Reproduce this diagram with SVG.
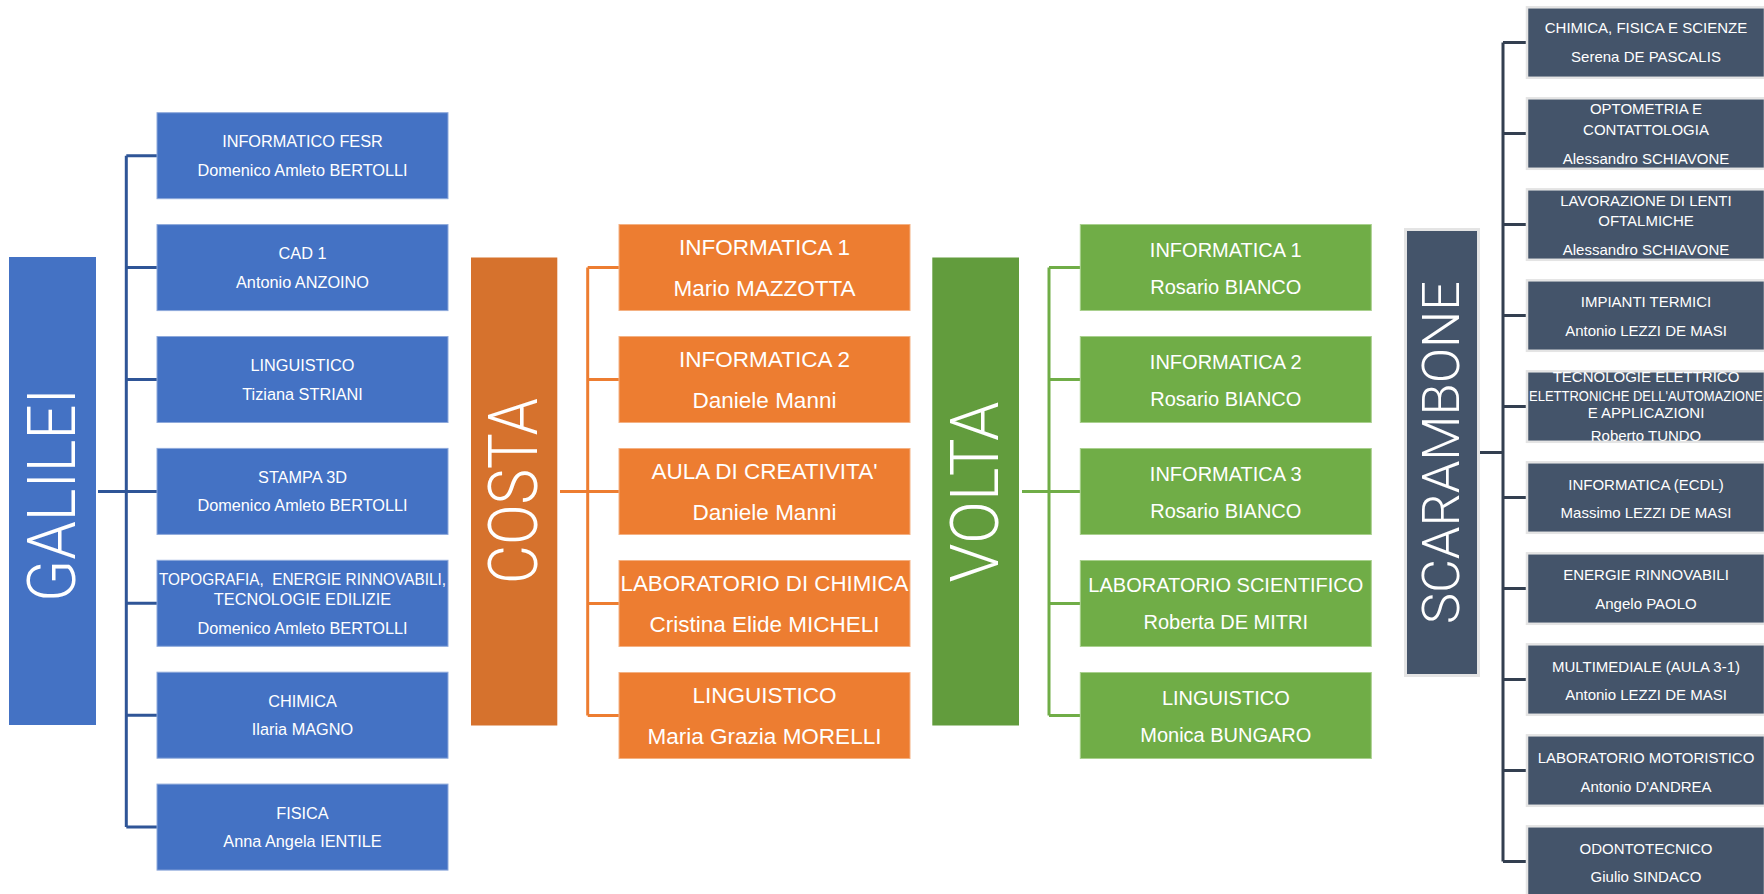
<svg xmlns="http://www.w3.org/2000/svg" width="1764" height="894" viewBox="0 0 1764 894">
<style>
.t{font-family:"Liberation Sans",Arial,sans-serif;fill:#fff;text-anchor:middle}
.big{font-family:Roboto,"Liberation Sans",sans-serif;font-weight:300;fill:#fff;text-anchor:middle}
.gal .box{fill:#4472C4;stroke:#8EA9DB;stroke-width:1}
.cos .box{fill:#ED7D31;stroke:#F4B183;stroke-width:1}
.vol .box{fill:#70AD47;stroke:#A9D08E;stroke-width:1}
.sca .box{fill:#44546A;stroke:#E4E4E4;stroke-width:2.5}
.gal .t{font-size:16.3px}
.cos .t{font-size:22.5px}
.vol .t{font-size:20px}
.sca .t{font-size:15px}
.conn path{fill:none;stroke-width:3}
</style>
<rect width="1764" height="894" fill="#fff"/>
<g id="connectors" class="conn">
<path stroke="#2F5597" d="M98,491.4 H126.3 M126.3,155.7 V827.1 M126.3,155.7 H157 M126.3,267.6 H157 M126.3,379.5 H157 M126.3,491.4 H157 M126.3,603.3 H157 M126.3,715.2 H157 M126.3,827.1 H157"/>
<path stroke="#ED7D31" d="M560,491.5 H587.7 M587.7,267.5 V715.5 M587.7,267.5 H619 M587.7,379.5 H619 M587.7,491.5 H619 M587.7,603.5 H619 M587.7,715.5 H619"/>
<path stroke="#70AD47" d="M1022,491.5 H1049 M1049,267.5 V715.5 M1049,267.5 H1080.3 M1049,379.5 H1080.3 M1049,491.5 H1080.3 M1049,603.5 H1080.3 M1049,715.5 H1080.3"/>
<path stroke="#333F50" d="M1479,452.5 H1503 M1503,42.5 V861.5 M1503,42.5 H1526 M1503,133.5 H1526 M1503,224.5 H1526 M1503,315.5 H1526 M1503,406.5 H1526 M1503,497.5 H1526 M1503,588.5 H1526 M1503,679.5 H1526 M1503,770.5 H1526 M1503,861.5 H1526"/>
</g>

<g id="galilei">
<rect x="9" y="257" width="87" height="468" fill="#4472C4"/>
<text class="big" transform="translate(51,495) rotate(-90)" y="24" font-size="67" textLength="214" lengthAdjust="spacingAndGlyphs">GALILEI</text>
</g>
<g class="gal">
<g id="g1" transform="translate(157,112.7)"><rect class="box" width="291" height="86"/><text class="t" x="145.5" y="34.7">INFORMATICO FESR</text><text class="t" x="145.5" y="63">Domenico Amleto BERTOLLI</text></g>
<g id="g2" transform="translate(157,224.6)"><rect class="box" width="291" height="86"/><text class="t" x="145.5" y="34.7">CAD 1</text><text class="t" x="145.5" y="63">Antonio ANZOINO</text></g>
<g id="g3" transform="translate(157,336.5)"><rect class="box" width="291" height="86"/><text class="t" x="145.5" y="34.7">LINGUISTICO</text><text class="t" x="145.5" y="63">Tiziana STRIANI</text></g>
<g id="g4" transform="translate(157,448.4)"><rect class="box" width="291" height="86"/><text class="t" x="145.5" y="34.7">STAMPA 3D</text><text class="t" x="145.5" y="63">Domenico Amleto BERTOLLI</text></g>
<g id="g5" transform="translate(157,560.3)"><rect class="box" width="291" height="86"/><text class="t" x="145.5" y="24.7" style="white-space:pre" textLength="287" lengthAdjust="spacingAndGlyphs">TOPOGRAFIA,  ENERGIE RINNOVABILI,</text><text class="t" x="145.5" y="44.7">TECNOLOGIE EDILIZIE</text><text class="t" x="145.5" y="73.7">Domenico Amleto BERTOLLI</text></g>
<g id="g6" transform="translate(157,672.2)"><rect class="box" width="291" height="86"/><text class="t" x="145.5" y="34.7">CHIMICA</text><text class="t" x="145.5" y="63">Ilaria MAGNO</text></g>
<g id="g7" transform="translate(157,784.1)"><rect class="box" width="291" height="86"/><text class="t" x="145.5" y="34.7">FISICA</text><text class="t" x="145.5" y="63">Anna Angela IENTILE</text></g>
</g>

<g id="costa">
<rect x="471" y="257.5" width="86.3" height="468" fill="#D6722D"/>
<text class="big" transform="translate(512,491) rotate(-90)" y="24.5" font-size="69" textLength="186" lengthAdjust="spacingAndGlyphs">COSTA</text>
</g>
<g class="cos">
<g id="c1" transform="translate(619,224.5)"><rect class="box" width="291" height="86"/><text class="t" x="145.5" y="30.4">INFORMATICA 1</text><text class="t" x="145.5" y="71.5">Mario MAZZOTTA</text></g>
<g id="c2" transform="translate(619,336.5)"><rect class="box" width="291" height="86"/><text class="t" x="145.5" y="30.4">INFORMATICA 2</text><text class="t" x="145.5" y="71.5">Daniele Manni</text></g>
<g id="c3" transform="translate(619,448.5)"><rect class="box" width="291" height="86"/><text class="t" x="145.5" y="30.4">AULA DI CREATIVITA'</text><text class="t" x="145.5" y="71.5">Daniele Manni</text></g>
<g id="c4" transform="translate(619,560.5)"><rect class="box" width="291" height="86"/><text class="t" x="145.5" y="30.4" textLength="288" lengthAdjust="spacingAndGlyphs">LABORATORIO DI CHIMICA</text><text class="t" x="145.5" y="71.5">Cristina Elide MICHELI</text></g>
<g id="c5" transform="translate(619,672.5)"><rect class="box" width="291" height="86"/><text class="t" x="145.5" y="30.4">LINGUISTICO</text><text class="t" x="145.5" y="71.5">Maria Grazia MORELLI</text></g>
</g>

<g id="volta">
<rect x="932.3" y="257.5" width="86.7" height="468" fill="#629C3D"/>
<text class="big" transform="translate(974,492) rotate(-90)" y="24" font-size="67" textLength="181" lengthAdjust="spacingAndGlyphs">VOLTA</text>
</g>
<g class="vol">
<g id="v1" transform="translate(1080.3,224.5)"><rect class="box" width="291" height="86"/><text class="t" x="145.5" y="32.7">INFORMATICA 1</text><text class="t" x="145.5" y="69.5">Rosario BIANCO</text></g>
<g id="v2" transform="translate(1080.3,336.5)"><rect class="box" width="291" height="86"/><text class="t" x="145.5" y="32.7">INFORMATICA 2</text><text class="t" x="145.5" y="69.5">Rosario BIANCO</text></g>
<g id="v3" transform="translate(1080.3,448.5)"><rect class="box" width="291" height="86"/><text class="t" x="145.5" y="32.7">INFORMATICA 3</text><text class="t" x="145.5" y="69.5">Rosario BIANCO</text></g>
<g id="v4" transform="translate(1080.3,560.5)"><rect class="box" width="291" height="86"/><text class="t" x="145.5" y="31.7">LABORATORIO SCIENTIFICO</text><text class="t" x="145.5" y="68.2">Roberta DE MITRI</text></g>
<g id="v5" transform="translate(1080.3,672.5)"><rect class="box" width="291" height="86"/><text class="t" x="145.5" y="32.7">LINGUISTICO</text><text class="t" x="145.5" y="69.5">Monica BUNGARO</text></g>
</g>

<g id="scarambone">
<rect x="1405.5" y="229.5" width="73" height="446" fill="#44546A" stroke="#E4E4E4" stroke-width="3"/>
<text class="big" transform="translate(1441,452.6) rotate(-90)" y="18.4" font-size="52" textLength="343" lengthAdjust="spacingAndGlyphs">SCARAMBONE</text>
</g>
<g class="sca">
<g id="s1" transform="translate(1527,7.3)"><rect class="box" width="238" height="70.5"/><text class="t" x="119" y="25.4">CHIMICA, FISICA E SCIENZE</text><text class="t" x="119" y="54.8">Serena DE PASCALIS</text></g>
<g id="s2" transform="translate(1527,98.3)"><rect class="box" width="238" height="70.5"/><text class="t" x="119" y="16.1">OPTOMETRIA E</text><text class="t" x="119" y="36.4">CONTATTOLOGIA</text><text class="t" x="119" y="65.8">Alessandro SCHIAVONE</text></g>
<g id="s3" transform="translate(1527,189.3)"><rect class="box" width="238" height="70.5"/><text class="t" x="119" y="16.6">LAVORAZIONE DI LENTI</text><text class="t" x="119" y="36.8">OFTALMICHE</text><text class="t" x="119" y="65.6">Alessandro SCHIAVONE</text></g>
<g id="s4" transform="translate(1527,280.3)"><rect class="box" width="238" height="70.5"/><text class="t" x="119" y="26.6">IMPIANTI TERMICI</text><text class="t" x="119" y="55.4">Antonio LEZZI DE MASI</text></g>
<g id="s5" transform="translate(1527,371.3)"><rect class="box" width="238" height="70.5"/><text class="t" x="119" y="10.6" font-size="13">TECNOLOGIE ELETTRICO</text><text class="t" x="119" y="29.3" font-size="13" textLength="234" lengthAdjust="spacingAndGlyphs">ELETTRONICHE DELL'AUTOMAZIONE</text><text class="t" x="119" y="46.6" font-size="13">E APPLICAZIONI</text><text class="t" x="119" y="69.5" font-size="13">Roberto TUNDO</text></g>
<g id="s6" transform="translate(1527,462.3)"><rect class="box" width="238" height="70.5"/><text class="t" x="119" y="27.5">INFORMATICA (ECDL)</text><text class="t" x="119" y="55.6">Massimo LEZZI DE MASI</text></g>
<g id="s7" transform="translate(1527,553.3)"><rect class="box" width="238" height="70.5"/><text class="t" x="119" y="27.2">ENERGIE RINNOVABILI</text><text class="t" x="119" y="55.5">Angelo PAOLO</text></g>
<g id="s8" transform="translate(1527,644.3)"><rect class="box" width="238" height="70.5"/><text class="t" x="119" y="27.6">MULTIMEDIALE (AULA 3-1)</text><text class="t" x="119" y="56">Antonio LEZZI DE MASI</text></g>
<g id="s9" transform="translate(1527,735.3)"><rect class="box" width="238" height="70.5"/><text class="t" x="119" y="27.4">LABORATORIO MOTORISTICO</text><text class="t" x="119" y="56.6">Antonio D'ANDREA</text></g>
<g id="s10" transform="translate(1527,826.3)"><rect class="box" width="238" height="70.5"/><text class="t" x="119" y="27.4">ODONTOTECNICO</text><text class="t" x="119" y="55.8">Giulio SINDACO</text></g>
</g>
</svg>
